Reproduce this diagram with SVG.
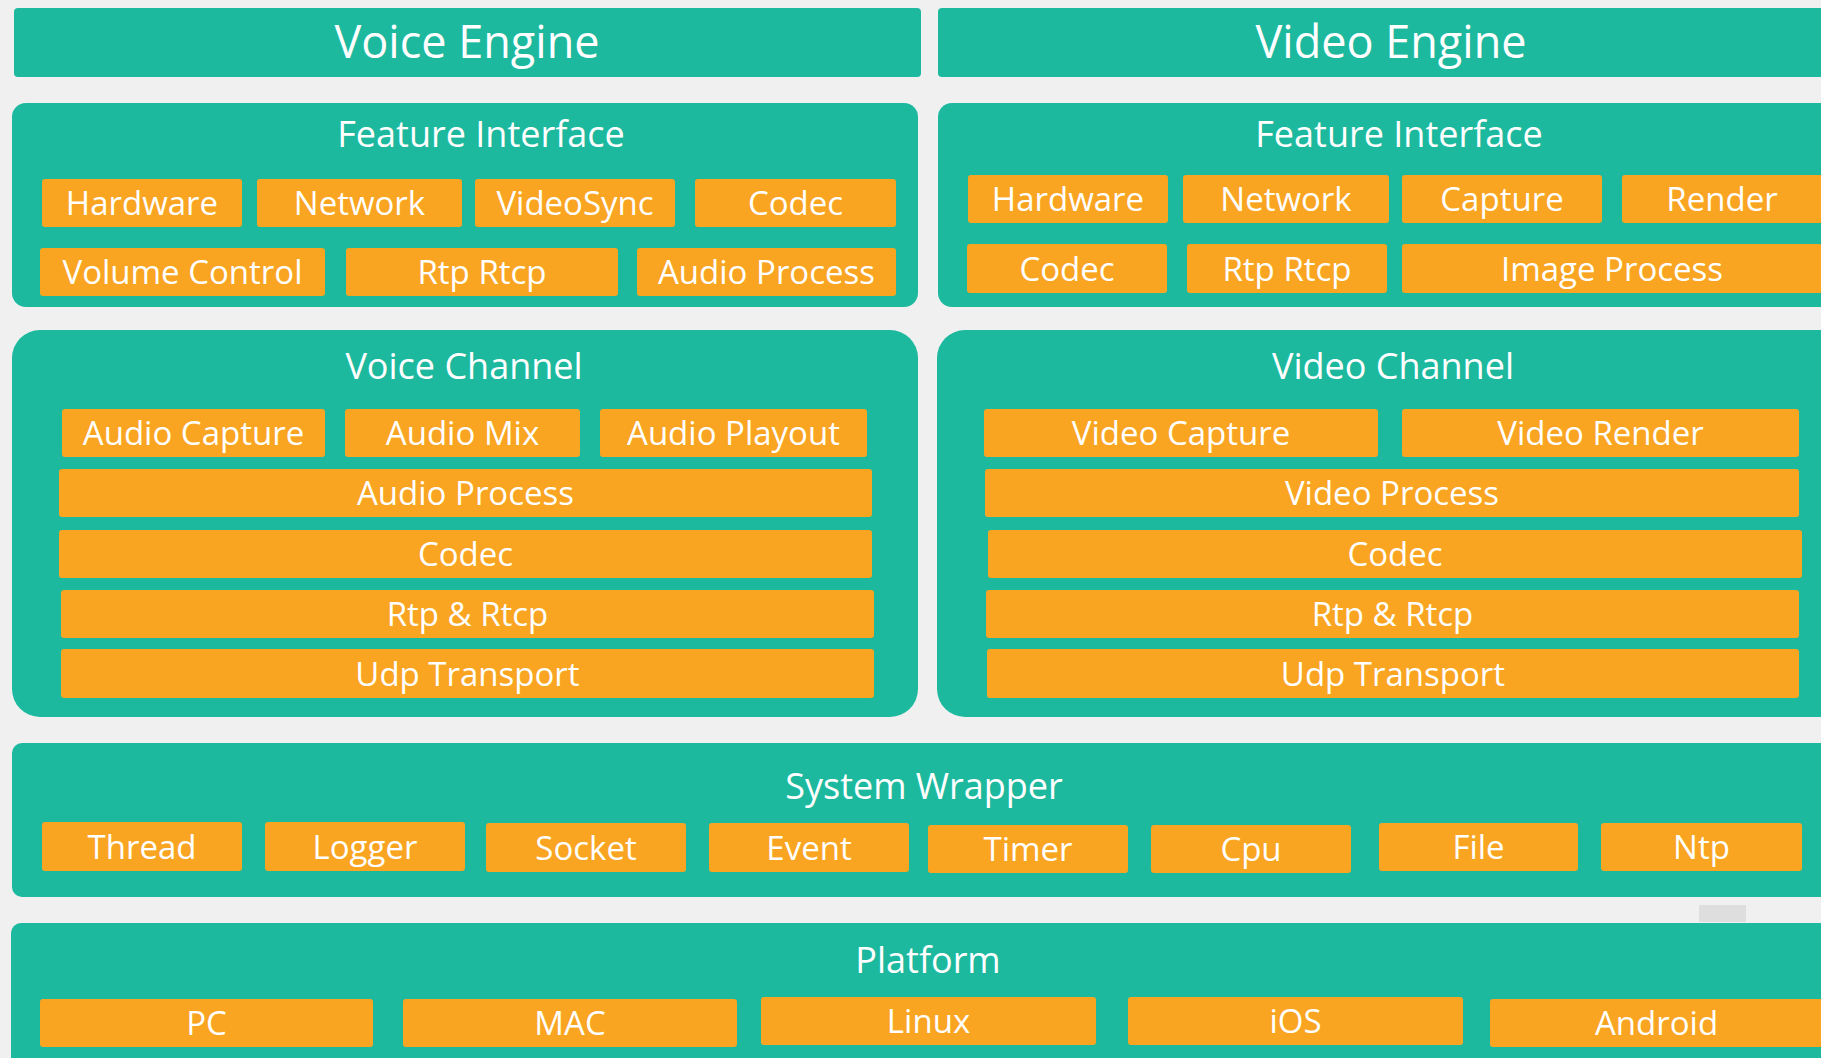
<svg xmlns="http://www.w3.org/2000/svg" width="1821" height="1058" viewBox="0 0 1821 1058">
<style>
.panel{fill:#1DB99F}
.item{fill:#F9A521}
text{font-family:"Open Sans","Noto Sans","DejaVu Sans",sans-serif;fill:#FFFFFF;text-anchor:middle}
.eng{font-size:45px}
.ttl{font-size:36px}
.lbl{font-size:33px}
</style>
<rect x="0" y="0" width="1821" height="1058" fill="#F0F0F0"/>
<rect x="1699" y="905" width="47" height="17" fill="#DEDEDE"/>

<g id="voice-engine"><rect class="panel" x="14" y="8" width="907" height="69" rx="4"/><text class="eng" x="467" y="57.5">Voice Engine</text></g>
<g id="video-engine"><rect class="panel" x="938" y="8" width="905" height="69" rx="4"/><text class="eng" x="1391" y="57.5">Video Engine</text></g>

<g id="voice-feature-interface">
<rect class="panel" x="12" y="103" width="906" height="204" rx="14"/>
<text class="ttl" x="481" y="147">Feature Interface</text>
<g id="vf-hardware"><rect class="item" x="42" y="179" width="200" height="48" rx="3"/><text class="lbl" x="142" y="215">Hardware</text></g>
<g id="vf-network"><rect class="item" x="257" y="179" width="205" height="48" rx="3"/><text class="lbl" x="359.5" y="215">Network</text></g>
<g id="vf-videosync"><rect class="item" x="475" y="179" width="200" height="48" rx="3"/><text class="lbl" x="575" y="215">VideoSync</text></g>
<g id="vf-codec"><rect class="item" x="695" y="179" width="201" height="48" rx="3"/><text class="lbl" x="795.5" y="215">Codec</text></g>
<g id="vf-volume"><rect class="item" x="40" y="248" width="285" height="48" rx="3"/><text class="lbl" x="182.5" y="284">Volume Control</text></g>
<g id="vf-rtp"><rect class="item" x="346" y="248" width="272" height="48" rx="3"/><text class="lbl" x="482" y="284">Rtp Rtcp</text></g>
<g id="vf-audioprocess"><rect class="item" x="637" y="248" width="259" height="48" rx="3"/><text class="lbl" x="766.5" y="284">Audio Process</text></g>
</g>

<g id="video-feature-interface">
<rect class="panel" x="938" y="103" width="912" height="204" rx="14"/>
<text class="ttl" x="1399" y="147">Feature Interface</text>
<g id="df-hardware"><rect class="item" x="968" y="175" width="200" height="48" rx="3"/><text class="lbl" x="1068" y="211">Hardware</text></g>
<g id="df-network"><rect class="item" x="1183" y="175" width="206" height="48" rx="3"/><text class="lbl" x="1286" y="211">Network</text></g>
<g id="df-capture"><rect class="item" x="1402" y="175" width="200" height="48" rx="3"/><text class="lbl" x="1502" y="211">Capture</text></g>
<g id="df-render"><rect class="item" x="1622" y="175" width="201" height="48" rx="3"/><text class="lbl" x="1722" y="211">Render</text></g>
<g id="df-codec"><rect class="item" x="967" y="244" width="200" height="49" rx="3"/><text class="lbl" x="1067" y="280.5">Codec</text></g>
<g id="df-rtp"><rect class="item" x="1187" y="244" width="200" height="49" rx="3"/><text class="lbl" x="1287" y="280.5">Rtp Rtcp</text></g>
<g id="df-image"><rect class="item" x="1402" y="244" width="420" height="49" rx="3"/><text class="lbl" x="1612" y="280.5">Image Process</text></g>
</g>

<g id="voice-channel">
<rect class="panel" x="12" y="330" width="906" height="387" rx="28"/>
<text class="ttl" x="464" y="379">Voice Channel</text>
<g id="vc-capture"><rect class="item" x="62" y="409" width="263" height="48" rx="3"/><text class="lbl" x="193.5" y="445">Audio Capture</text></g>
<g id="vc-mix"><rect class="item" x="345" y="409" width="235" height="48" rx="3"/><text class="lbl" x="462.5" y="445">Audio Mix</text></g>
<g id="vc-playout"><rect class="item" x="600" y="409" width="267" height="48" rx="3"/><text class="lbl" x="733.5" y="445">Audio Playout</text></g>
<g id="vc-process"><rect class="item" x="59" y="469" width="813" height="48" rx="3"/><text class="lbl" x="465.5" y="505">Audio Process</text></g>
<g id="vc-codec"><rect class="item" x="59" y="530" width="813" height="48" rx="3"/><text class="lbl" x="465.5" y="566">Codec</text></g>
<g id="vc-rtp"><rect class="item" x="61" y="590" width="813" height="48" rx="3"/><text class="lbl" x="467.5" y="626">Rtp &amp; Rtcp</text></g>
<g id="vc-udp"><rect class="item" x="61" y="649" width="813" height="49" rx="3"/><text class="lbl" x="467.5" y="685.5">Udp Transport</text></g>
</g>

<g id="video-channel">
<rect class="panel" x="937" y="330" width="913" height="387" rx="28"/>
<text class="ttl" x="1393" y="379">Video Channel</text>
<g id="dc-capture"><rect class="item" x="984" y="409" width="394" height="48" rx="3"/><text class="lbl" x="1181" y="445">Video Capture</text></g>
<g id="dc-render"><rect class="item" x="1402" y="409" width="397" height="48" rx="3"/><text class="lbl" x="1600.5" y="445">Video Render</text></g>
<g id="dc-process"><rect class="item" x="985" y="469" width="814" height="48" rx="3"/><text class="lbl" x="1392" y="505">Video Process</text></g>
<g id="dc-codec"><rect class="item" x="988" y="530" width="814" height="48" rx="3"/><text class="lbl" x="1395" y="566">Codec</text></g>
<g id="dc-rtp"><rect class="item" x="986" y="590" width="813" height="48" rx="3"/><text class="lbl" x="1392.5" y="626">Rtp &amp; Rtcp</text></g>
<g id="dc-udp"><rect class="item" x="987" y="649" width="812" height="49" rx="3"/><text class="lbl" x="1393" y="685.5">Udp Transport</text></g>
</g>

<g id="system-wrapper">
<rect class="panel" x="12" y="743" width="1838" height="154" rx="10"/>
<text class="ttl" x="924" y="799">System Wrapper</text>
<g id="sw-thread"><rect class="item" x="42" y="822" width="200" height="49" rx="3"/><text class="lbl" x="142" y="858.5">Thread</text></g>
<g id="sw-logger"><rect class="item" x="265" y="822" width="200" height="49" rx="3"/><text class="lbl" x="365" y="858.5">Logger</text></g>
<g id="sw-socket"><rect class="item" x="486" y="823" width="200" height="49" rx="3"/><text class="lbl" x="586" y="859.5">Socket</text></g>
<g id="sw-event"><rect class="item" x="709" y="823" width="200" height="49" rx="3"/><text class="lbl" x="809" y="859.5">Event</text></g>
<g id="sw-timer"><rect class="item" x="928" y="825" width="200" height="48" rx="3"/><text class="lbl" x="1028" y="861">Timer</text></g>
<g id="sw-cpu"><rect class="item" x="1151" y="825" width="200" height="48" rx="3"/><text class="lbl" x="1251" y="861">Cpu</text></g>
<g id="sw-file"><rect class="item" x="1379" y="823" width="199" height="48" rx="3"/><text class="lbl" x="1478.5" y="859">File</text></g>
<g id="sw-ntp"><rect class="item" x="1601" y="823" width="201" height="48" rx="3"/><text class="lbl" x="1701.5" y="859">Ntp</text></g>
</g>

<g id="platform">
<rect class="panel" x="11" y="923" width="1839" height="160" rx="10"/>
<text class="ttl" x="928" y="973">Platform</text>
<g id="pf-pc"><rect class="item" x="40" y="999" width="333" height="48" rx="3"/><text class="lbl" x="206.5" y="1035">PC</text></g>
<g id="pf-mac"><rect class="item" x="403" y="999" width="334" height="48" rx="3"/><text class="lbl" x="570" y="1035">MAC</text></g>
<g id="pf-linux"><rect class="item" x="761" y="997" width="335" height="48" rx="3"/><text class="lbl" x="928.5" y="1033">Linux</text></g>
<g id="pf-ios"><rect class="item" x="1128" y="997" width="335" height="48" rx="3"/><text class="lbl" x="1295.5" y="1033">iOS</text></g>
<g id="pf-android"><rect class="item" x="1490" y="999" width="333" height="48" rx="3"/><text class="lbl" x="1656.5" y="1035">Android</text></g>
</g>

<g id="connectors"></g>
</svg>
